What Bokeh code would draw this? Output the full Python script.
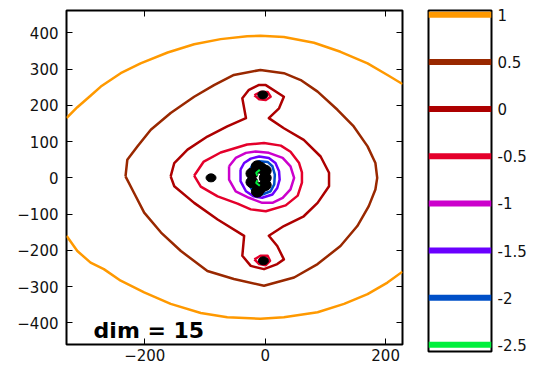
from bokeh.plotting import figure
from bokeh.models import (Range1d, LinearAxis, FixedTicker,
                          ColumnDataSource, Label, Span, NumeralTickFormatter,
                          CustomJSTickFormatter)
from bokeh.layouts import row
from bokeh.embed import file_html
from bokeh.resources import INLINE

# ---------------- data ----------------
levels = [1, 0.5, 0, -0.5, -1, -1.5, -2, -2.5]
level_colors = ["#FF9900", "#992800", "#AD0000", "#E4002B",
                "#CC00CC", "#6A00FF", "#0050C8", "#00F03C"]

# level 1 (two open arcs, clipped by the axes box)
c1_top_x = [-330, -312, -292, -273, -240, -207, -162, -118, -74, -30, -8, 31, 81, 125, 170, 203, 228]
c1_top_y = [165, 195, 224, 252, 289, 316, 346, 369, 383, 391, 392, 389, 373, 348, 316, 284, 259]
c1_bot_x = [-330, -312, -290, -268, -240, -201, -157, -107, -63, -8, 31, 87, 131, 170, 203, 228]
c1_bot_y = [-160, -202, -234, -252, -284, -316, -348, -373, -385, -389, -385, -371, -348, -321, -289, -259]

# level 0.5 (closed)
c05_x = [-232, -229, -212, -190, -157, -118, -85, -52, -8, 31, 59, 87, 120, 147, 170, 183, 186,
         183, 172, 153, 125, 87, 48, -2, -52, -96, -140, -173, -201, -218]
c05_y = [4, 50, 87, 133, 179, 224, 256, 284, 298, 289, 270, 238, 188, 142, 87, 41, 0,
         -32, -78, -133, -188, -238, -275, -298, -279, -257, -202, -151, -96, -41]

# level 0 (closed)
c0_x = [-157, -151, -129, -96, -63, -32, -38, -27, -11, 1, 31, 23, 6, 31, 64, 92, 106,
        106, 87, 64, 31, 6, 20, 31, 20, -2, -24, -38, -35, -79, -118, -151]
c0_y = [4, 41, 78, 114, 142, 165, 220, 243, 256, 256, 224, 192, 165, 137, 105, 59, 14,
        -23, -69, -106, -133, -160, -188, -225, -238, -252, -243, -215, -160, -115, -69, -23]

# level -0.5 (main loop + two small loops)
cm05_x = [-118, -102, -74, -30, -2, 26, 42, 56, 61, 61, 54, 34, 1, -24, -46, -79, -107]
cm05_y = [6, 45, 70, 92, 96, 89, 72, 42, 15, -13, -49, -76, -92, -87, -71, -51, -24]
cm05_top_x = [-18, -8, 4, 9, 1, -10]
cm05_top_y = [228, 237, 237, 224, 215, 217]
cm05_bot_x = [-18, -8, 4, 8, 1, -10]
cm05_bot_y = [-225, -215, -215, -229, -241, -238]

# level -1
cm1_x = [-60, -49, -32, -16, 6, 29, 42, 48, 42, 29, 12, -5, -27, -49, -60]
cm1_y = [32, 55, 69, 73, 69, 55, 32, 0, -32, -55, -69, -69, -55, -37, -5]

# level -1.5
cm15_x = [-41, -35, -24, -10, 6, 17, 23, 24, 20, 12, -5, -19, -32, -41]
cm15_y = [23, 41, 53, 59, 55, 41, 18, -5, -28, -46, -55, -51, -37, -9]

# level -2
cm2_x = [-27, -21, -10, 4, 12, 16, 15, 9, -5, -19, -27]
cm2_y = [18, 37, 46, 44, 32, 9, -18, -37, -46, -41, -18]

# level -2.5 (two small arcs)
cm25_a_x = [-9, -15, -13]
cm25_a_y = [22, 14, 6]
cm25_b_x = [-13, -15, -9]
cm25_b_y = [-6, -14, -22]

# atom positions (black dots): satellites, and the central cluster
atom_x = [-4, -3, -90]
atom_y = [229, -229, 0]
core_x = [-13, -22, -22, -13, 0, 0, 0, -8, -8]
core_y = [32, 12, -12, -38, 0, 20, -20, -28, 28]

x_ticks = [-200, 0, 200]
y_ticks = [-400, -300, -200, -100, 0, 100, 200, 300, 400]
annotation_text = "dim = 15"


def closed(a):
    return list(a) + [a[0]]


# ---------------- main plot ----------------
FONT = "DejaVu Sans"
p = figure(x_range=Range1d(-330, 228), y_range=Range1d(-460, 462),
           frame_width=336, frame_height=334,
           min_border_left=66, min_border_right=16, min_border_top=10, min_border_bottom=0,
           toolbar_location=None, output_backend="svg")
p.grid.visible = False
p.outline_line_color = "black"
p.outline_line_width = 2
p.outline_line_alpha = 1
p.background_fill_color = "white"
p.border_fill_color = "white"

lw = 2.5
line_sets = [
    (0, [c1_top_x, c1_bot_x], [c1_top_y, c1_bot_y], False),
    (1, [c05_x], [c05_y], True),
    (2, [c0_x], [c0_y], True),
    (3, [cm05_x, cm05_top_x, cm05_bot_x], [cm05_y, cm05_top_y, cm05_bot_y], True),
    (4, [cm1_x], [cm1_y], True),
    (5, [cm15_x], [cm15_y], True),
    (6, [cm2_x], [cm2_y], True),
]
for idx, xs, ys, is_closed in line_sets:
    if is_closed:
        xs = [closed(x) for x in xs]
        ys = [closed(y) for y in ys]
    src = ColumnDataSource(dict(xs=xs, ys=ys))
    p.multi_line("xs", "ys", source=src, line_color=level_colors[idx], line_width=lw,
                 line_join="round")

p.ellipse(x=atom_x, y=atom_y, width=10, height=8, width_units="screen",
          height_units="screen", fill_color="black", line_color="black")
p.ellipse(x=core_x, y=core_y, width=12, height=11, width_units="screen",
          height_units="screen", fill_color="black", line_color="black")

green_src = ColumnDataSource(dict(xs=[cm25_a_x, cm25_b_x], ys=[cm25_a_y, cm25_b_y]))
p.multi_line("xs", "ys", source=green_src, line_color=level_colors[7], line_width=2)

p.add_layout(Label(x=-285, y=-421, text=annotation_text, text_font=FONT,
                   text_font_style="bold", text_font_size="22px", text_color="black",
                   text_baseline="alphabetic"))


def style_axis(ax, ticks, show_labels):
    ax.ticker = FixedTicker(ticks=ticks)
    ax.axis_line_color = None
    ax.major_tick_in = 6
    ax.major_tick_out = 0
    ax.major_tick_line_color = "black"
    ax.major_tick_line_width = 1
    ax.minor_tick_line_color = None
    ax.major_label_text_font = FONT
    ax.major_label_text_color = "#111111"
    if show_labels:
        ax.major_label_text_font_size = "15px"
    else:
        ax.formatter = CustomJSTickFormatter(code="return ''")
        ax.major_label_text_font_size = "1px"
        ax.major_label_standoff = 0


style_axis(p.below[0], x_ticks, True)
p.below[0].major_label_standoff = 4
style_axis(p.left[0], y_ticks, True)
p.left[0].major_label_standoff = 8

top_ax = LinearAxis()
right_ax = LinearAxis()
style_axis(top_ax, x_ticks, False)
style_axis(right_ax, y_ticks, False)
p.add_layout(top_ax, "above")
p.add_layout(right_ax, "right")

# ---------------- colour bar ----------------
cb = figure(x_range=Range1d(0, 1), y_range=Range1d(-2.571, 1.046),
            frame_width=63, frame_height=341,
            min_border_left=10, min_border_right=40, min_border_top=9, min_border_bottom=11,
            toolbar_location=None, output_backend="svg",
            x_axis_location=None, y_axis_location="right")
cb.grid.visible = False
cb.outline_line_color = "black"
cb.outline_line_width = 2
for lev, col in zip(levels, level_colors):
    cb.add_layout(Span(location=lev, dimension="width", line_color=col, line_width=6))
ax = cb.right[0]
ax.ticker = FixedTicker(ticks=levels)
ax.formatter = NumeralTickFormatter(format="0.[0]")
ax.axis_line_color = None
ax.major_tick_in = 0
ax.major_tick_out = 0
ax.minor_tick_line_color = None
ax.major_label_text_font = FONT
ax.major_label_text_font_size = "15px"
ax.major_label_text_color = "#111111"
ax.major_label_standoff = 6

layout = row(p, cb)
open("out.html", "w").write(file_html(layout, INLINE))
